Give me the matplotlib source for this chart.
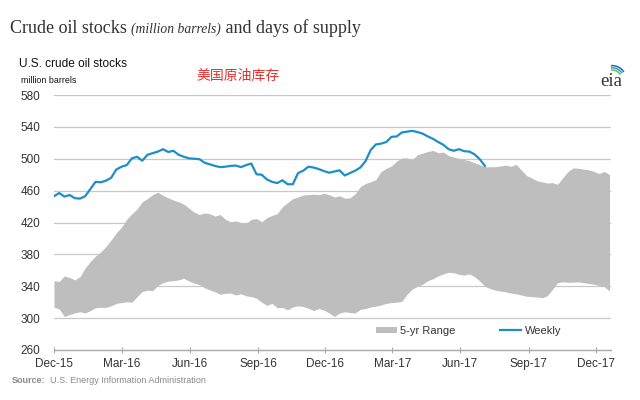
import numpy as np
import pandas as pd
import matplotlib
matplotlib.use("Agg")
import matplotlib.pyplot as plt
import matplotlib.dates as mdates

# weekly stocks (million barrels)
weekly = [453, 457, 452.5, 454.5, 450.5, 450, 453, 462, 471, 470.5,
          472.5, 476, 486.5, 490, 492, 500.5, 502.5, 497.5, 505, 507,
          509, 512, 508.5, 510, 505, 502.5, 500.5, 500, 499.5, 495,
          493, 491, 489.5, 490, 491, 491.5, 489.5, 492, 494, 480.5,
          480, 474, 471, 469.5, 473, 468, 468, 482, 485, 490,
          489, 487, 484.5, 482.5, 484, 485.5, 479, 482, 485, 489,
          497, 511, 518, 519, 521, 527.5, 528, 533, 534, 535,
          533.5, 531.5, 528, 525, 521, 517.5, 512, 510, 512, 509.5,
          509, 505.5, 499.5, 491]

# 5-year range, upper and lower bounds
range_hi = [347, 346, 353, 351, 348, 352, 363, 371, 378, 383,
            390, 398, 407, 414, 424, 431, 437, 446, 450, 455,
            458, 454, 451, 448, 446, 443, 438, 433, 430, 432,
            431, 428, 430, 424, 421, 422, 420, 419, 424, 425,
            421, 426, 429, 431, 440, 445, 450, 452, 454.5, 455,
            455.5, 455, 456.5, 455, 452, 453.5, 450.5, 451, 456, 465,
            469, 471, 474, 484, 488, 491, 497, 501, 501, 499,
            505, 507, 509, 510.5, 507.5, 508.5, 504, 502, 500.5, 499,
            497.5, 495, 492.5, 490, 490, 490, 491, 492, 490.5, 493,
            486, 479, 476, 472.5, 471, 469.5, 470, 468, 476, 484,
            488.5, 488, 487, 486, 484, 481.5, 484, 480]
range_lo = [313.5, 311.5, 302, 304.5, 306.5, 308, 306.5, 309.5, 313, 313.5,
            313.5, 315.5, 318.5, 319.5, 320.5, 320, 327, 333.5, 335, 334.5,
            341, 344.5, 346.5, 347, 348, 350, 346.5, 344, 342, 338,
            335.5, 333, 330, 331, 331.5, 329, 330.5, 328, 327, 325,
            320, 316, 318.5, 313, 313.5, 310.5, 314, 315.5, 314.5, 312.5,
            309.5, 312, 310, 306.5, 302, 306.5, 308, 307, 306.5, 311,
            312, 314, 315, 316.5, 318.5, 319.5, 320, 321, 330, 336.5,
            340, 342.5, 347, 349.5, 353, 355.5, 357.5, 357, 355, 354,
            355.5, 352, 346.5, 340, 337, 335, 334, 333, 331.5, 330.5,
            329, 327.5, 327, 326.5, 325.5, 328, 336, 344.5, 345.5, 345,
            345, 345.5, 344.5, 343.5, 342.5, 341, 339.5, 334]

range_dates = pd.date_range("2015-12-01", periods=len(range_hi), freq="7D")
weekly_dates = range_dates[:len(weekly)]

tick_dates = pd.date_range("2015-12-01", "2017-12-01", freq="3MS")
y_ticks = np.arange(260, 581, 40)

plt.rcParams['font.family'] = ['Liberation Sans', 'Noto Sans CJK SC', 'DejaVu Sans']

fig = plt.figure(figsize=(6.4, 4.0), dpi=100)
ax = fig.add_axes([0.0844, 0.125, 0.8703, 0.6375])

ax.fill_between(range_dates, range_lo, range_hi, color='#bebebe', lw=0,
                label='5-yr Range', zorder=2)
ax.plot(weekly_dates, weekly, color='#1e8ec8', lw=1.6, label='Weekly', zorder=3)

ax.set_ylim(260, 580)
ax.set_yticks(y_ticks)
ax.set_xlim(range_dates[0], range_dates[-1] + pd.Timedelta(days=2))
ax.set_xticks(tick_dates)
ax.xaxis.set_major_formatter(mdates.DateFormatter('%b-%y'))

for v in y_ticks[1:]:
    ax.axhline(v, color='#c8c8c8', lw=0.9, zorder=1)

for s in ['top', 'right', 'left']:
    ax.spines[s].set_visible(False)
ax.spines['bottom'].set_color('#a8a8a8')
ax.spines['bottom'].set_linewidth(1.0)
ax.tick_params(axis='y', length=0, pad=10, labelsize=8.5, labelcolor='#333333')
ax.tick_params(axis='x', direction='inout', length=5, color='#a8a8a8',
               pad=3, labelsize=8.5, labelcolor='#333333')

leg = ax.legend(loc='center', bbox_to_anchor=(0.744, 0.075), ncol=2, frameon=False,
                fontsize=8, handlelength=1.9, handleheight=0.55, columnspacing=4.0,
                handletextpad=0.3)
for t in leg.get_texts():
    t.set_color('#333333')

# title in pieces: normal / italic / normal
fig.canvas.draw()
r = fig.canvas.get_renderer()
x0 = 10 / 640
ty = 1 - 33 / 400
parts = [("Crude oil stocks ", 'normal', 13), ("(million barrels)", 'italic', 9.8),
         (" and days of supply", 'normal', 13)]
for txt, style, size in parts:
    t = fig.text(x0, ty, txt, family='Liberation Serif', style=style, fontsize=size,
                 color='#333333', va='baseline')
    bb = t.get_window_extent(renderer=r)
    x0 += bb.width / 640

fig.text(19 / 640, 1 - 67 / 400, "U.S. crude oil stocks", fontsize=8.6, color='#111111')
fig.text(21 / 640, 1 - 83 / 400, "million barrels", fontsize=6.4, color='#111111')
fig.text(196 / 640, 1 - 80 / 400, "美国原油库存", fontsize=10,
         family=['Noto Sans CJK SC', 'DejaVu Sans'], color='#e8302e')

# small eia mark
fig.text(600 / 640, 1 - 86 / 400, "eia", family='Liberation Serif', fontsize=13.5,
         color='#333333')
for i, c in enumerate(['#7ab648', '#2d9bd6', '#1c6fb0']):
    th = np.linspace(0.15, 1.1, 20)
    xs = (612 + (10 + i * 2.2) * np.cos(th + 0.5)) / 640
    ys = 1 - (80 - (10 + i * 2.2) * np.sin(th + 0.5)) / 400
    fig.add_artist(plt.Line2D(xs, ys, color=c, lw=1.1, transform=fig.transFigure))

fig.text(12 / 640, 1 - 383 / 400, "Source:", fontsize=6.5, color='#8a8a8a', weight='bold')
fig.text(50 / 640, 1 - 383 / 400, "U.S. Energy Information Administration",
         fontsize=6.5, color='#8a8a8a')

fig.savefig("out.png", dpi=100, facecolor='white')
